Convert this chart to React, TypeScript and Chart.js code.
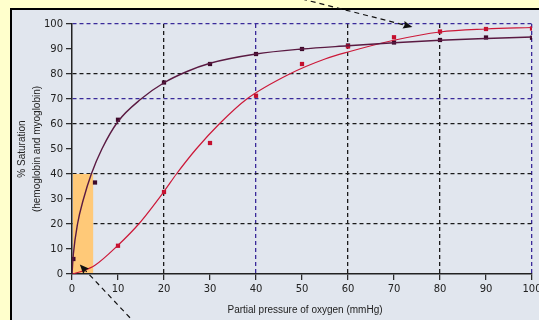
import React, { useEffect, useRef } from "react";
import { Chart, registerables } from "chart.js";

Chart.register(...registerables);

// Fitted curves
const myoCurveX = [0, 0.3, 1.2, 2.5, 4.2, 6.5, 10, 15, 20, 25, 30, 40, 50, 60, 70, 80, 90, 100];
const myoCurveY = [0, 8, 20, 30, 40, 50, 61, 70, 76.5, 81, 84.3, 88, 90, 91.3, 92.5, 93.5, 94.2, 94.8];
const hbCurveX = [0, 2, 5, 10, 14.5, 20, 22.7, 27, 32, 38, 47.3, 55, 60, 70, 80, 90, 100];
const hbCurveY = [0, 1, 3.5, 11.5, 20, 33, 40, 50, 60, 70, 80, 86, 88.8, 93.5, 96.8, 98, 98.6];

// Measured points
const myoPointX = [0.3, 5, 10, 20, 30, 40, 50, 60, 70, 80, 90, 100];
const myoPointY = [6, 36.6, 61.7, 76.6, 84, 88, 90, 91.4, 92.6, 93.6, 94.6, 94.5];
const hbPointX = [10, 20, 30, 40, 50, 60, 70, 80, 90, 100];
const hbPointY = [11.3, 32.8, 52.4, 71.3, 84, 91, 94.7, 97, 98, 98.2];

// Axis ticks and grid
const xTicks = [0, 10, 20, 30, 40, 50, 60, 70, 80, 90, 100];
const yTicks = [0, 10, 20, 30, 40, 50, 60, 70, 80, 90, 100];
const xGridBlack = [20, 60, 80];
const xGridBlue = [40, 100];
const yGridBlack = [20, 40, 60, 80];
const yGridBlue = [70, 100];

// Shaded region (x from, x to, y from, y to)
const shadeX = [0, 4.6];
const shadeY = [0, 40];

// Arrows in data units: [fromX, fromY, toX, toY]
const arrowTop = [50, 110, 74, 98.8];
const arrowBottom = [12.6, -17.5, 1.7, 3.8];

const xTitle = "Partial pressure of oxygen (mmHg)";
const yTitle = ["% Saturation", "(hemoglobin and myoglobin)"];

const BLACK_GRID = "#1a1a1a";
const BLUE_GRID = "#3a2a9a";
const MYO = "#5a1a42";
const HB = "#cc1838";

const zip = (xs: number[], ys: number[]) => xs.map((x, i) => ({ x, y: ys[i] }));

export default function App() {
  const ref = useRef<HTMLCanvasElement | null>(null);

  useEffect(() => {
    if (!ref.current) return;

    const decor = {
      id: "decor",
      beforeDraw(chart: any) {
        const { ctx, width, height } = chart;
        ctx.save();
        ctx.fillStyle = "#ffffcc";
        ctx.fillRect(0, 0, width, height);
        ctx.fillStyle = "#e1e6ee";
        ctx.fillRect(11, 9, width, height);
        ctx.strokeStyle = "#000";
        ctx.lineWidth = 2;
        ctx.beginPath();
        ctx.moveTo(11, height + 5);
        ctx.lineTo(11, 9);
        ctx.lineTo(width + 5, 9);
        ctx.stroke();
        ctx.restore();
      },
      beforeDatasetsDraw(chart: any) {
        const { ctx } = chart;
        const xs = chart.scales.x;
        const ys = chart.scales.y;
        const x0 = xs.getPixelForValue(shadeX[0]);
        const x1 = xs.getPixelForValue(shadeX[1]);
        const y0 = ys.getPixelForValue(shadeY[0]);
        const y1 = ys.getPixelForValue(shadeY[1]);
        ctx.save();
        ctx.fillStyle = "#ffc978";
        ctx.fillRect(x0 + 1, y1, x1 - x0 - 1, y0 - y1 - 1);
        ctx.restore();
      },
      afterDraw(chart: any) {
        const { ctx, chartArea } = chart;
        const xs = chart.scales.x;
        const ys = chart.scales.y;
        ctx.save();
        const drawArrow = (a: number[]) => {
          const fx = xs.getPixelForValue(a[0]);
          const fy = ys.getPixelForValue(a[1]);
          const tx = xs.getPixelForValue(a[2]);
          const ty = ys.getPixelForValue(a[3]);
          const ang = Math.atan2(ty - fy, tx - fx);
          const hl = 10;
          const bx = tx - Math.cos(ang) * hl * 0.8;
          const by = ty - Math.sin(ang) * hl * 0.8;
          ctx.strokeStyle = "#111";
          ctx.lineWidth = 1.2;
          ctx.setLineDash([5, 4]);
          ctx.beginPath();
          ctx.moveTo(fx, fy);
          ctx.lineTo(bx, by);
          ctx.stroke();
          ctx.setLineDash([]);
          ctx.fillStyle = "#111";
          ctx.beginPath();
          ctx.moveTo(tx, ty);
          ctx.lineTo(tx - Math.cos(ang - 0.4) * hl, ty - Math.sin(ang - 0.4) * hl);
          ctx.lineTo(bx, by);
          ctx.lineTo(tx - Math.cos(ang + 0.4) * hl, ty - Math.sin(ang + 0.4) * hl);
          ctx.closePath();
          ctx.fill();
        };
        drawArrow(arrowTop);
        drawArrow(arrowBottom);

        ctx.fillStyle = "#222";
        ctx.font = "10px 'Liberation Sans', Arial, sans-serif";
        ctx.textAlign = "center";
        ctx.textBaseline = "middle";
        ctx.fillText(xTitle, (chartArea.left + chartArea.right) / 2 + 3, 310);
        ctx.save();
        ctx.translate(22, (chartArea.top + chartArea.bottom) / 2);
        ctx.rotate(-Math.PI / 2);
        ctx.fillText(yTitle[0], 0, 0);
        ctx.fillText(yTitle[1], 0, 15);
        ctx.restore();
        ctx.restore();
      },
    };

    const gridColor = (blacks: number[], blues: number[]) => (c: any) => {
      const v = c.tick ? c.tick.value : NaN;
      if (blues.includes(v)) return BLUE_GRID;
      if (blacks.includes(v)) return BLACK_GRID;
      return "rgba(0,0,0,0)";
    };

    const tickFont = { family: "'DejaVu Sans', sans-serif", size: 10 };

    const chart = new Chart(ref.current, {
      type: "scatter",
      data: {
        datasets: [
          {
            label: "Myoglobin curve",
            data: zip(myoCurveX, myoCurveY),
            showLine: true,
            borderColor: MYO,
            borderWidth: 1.4,
            pointRadius: 0,
            cubicInterpolationMode: "monotone",
          },
          {
            label: "Hemoglobin curve",
            data: zip(hbCurveX, hbCurveY),
            showLine: true,
            borderColor: HB,
            borderWidth: 1.2,
            pointRadius: 0,
            cubicInterpolationMode: "monotone",
          },
          {
            label: "Hemoglobin",
            data: zip(hbPointX, hbPointY),
            showLine: false,
            pointStyle: "rect",
            pointRadius: 3,
            backgroundColor: "#c4102e",
            borderColor: "#c4102e",
            borderWidth: 0,
          },
          {
            label: "Myoglobin",
            data: zip(myoPointX, myoPointY),
            showLine: false,
            pointStyle: "rect",
            pointRadius: 3,
            backgroundColor: "#3e0a2a",
            borderColor: "#3e0a2a",
            borderWidth: 0,
          },
        ],
      },
      options: {
        animation: false,
        responsive: false,
        maintainAspectRatio: false,
        layout: { padding: { left: 0, right: 7, top: 24, bottom: 0 } },
        plugins: { legend: { display: false }, tooltip: { enabled: false } },
        scales: {
          x: {
            type: "linear",
            min: 0,
            max: 100,
            afterBuildTicks: (s: any) => {
              s.ticks = xTicks.map((v) => ({ value: v }));
            },
            afterFit: (s: any) => {
              s.height = 46;
              s.paddingLeft = 0;
              s.paddingRight = 0;
            },
            ticks: { color: "#222", font: tickFont, padding: 3, maxRotation: 0, autoSkip: false },
            grid: {
              color: gridColor(xGridBlack, xGridBlue),
              lineWidth: 1.3,
              tickColor: "#222",
              tickLength: 6,
              tickWidth: 1.2,
              tickBorderDash: [],
              drawTicks: true,
            },
            border: { display: true, color: "#222", width: 1.5, dash: [4, 3] },
          },
          y: {
            type: "linear",
            min: 0,
            max: 100,
            afterBuildTicks: (s: any) => {
              s.ticks = yTicks.map((v) => ({ value: v }));
            },
            afterFit: (s: any) => {
              s.width = 72;
              s.paddingTop = 0;
              s.paddingBottom = 0;
            },
            ticks: { color: "#222", font: tickFont, padding: 3, autoSkip: false },
            grid: {
              color: gridColor(yGridBlack, yGridBlue),
              lineWidth: 1.3,
              tickColor: "#222",
              tickLength: 6,
              tickWidth: 1.2,
              tickBorderDash: [],
              drawTicks: true,
            },
            border: { display: true, color: "#222", width: 1.5, dash: [4, 3] },
          },
        },
      },
      plugins: [decor],
    } as any);

    return () => chart.destroy();
  }, []);

  return (
    <>
      <style>{`body{margin:0}`}</style>
      <div style={{ width: 539, height: 320 }}>
        <canvas ref={ref} width={539} height={320} style={{ display: "block" }} />
      </div>
    </>
  );
}
